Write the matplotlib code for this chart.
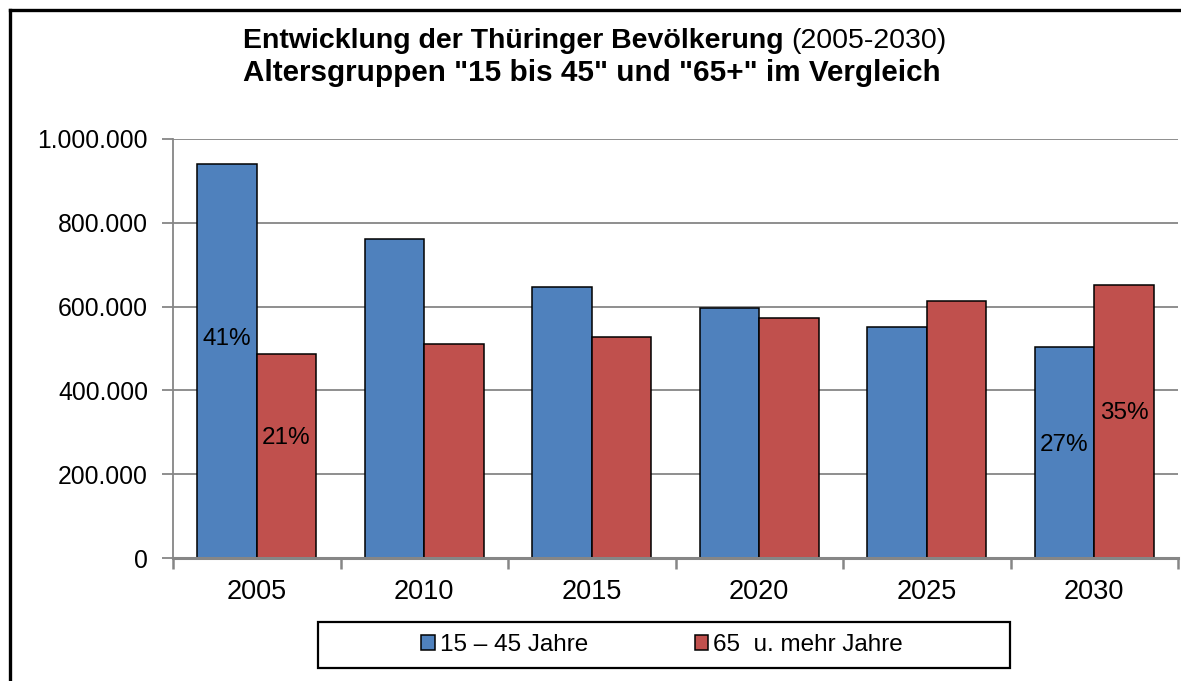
import matplotlib
matplotlib.use('Agg')
import matplotlib.pyplot as plt
import numpy as np
from matplotlib.patches import Rectangle
from matplotlib.lines import Line2D
from matplotlib.ticker import FuncFormatter

# ---- data ----
years = ['2005', '2010', '2015', '2020', '2025', '2030']
age_15_45 = [940000, 761000, 647000, 597000, 551000, 504000]
age_65_plus = [487000, 511000, 527000, 573000, 613000, 652000]
series_names = ['15 – 45 Jahre', '65  u. mehr Jahre']
# (year index, series index, text)
pct_labels = [(0, 0, '41%'), (0, 1, '21%'), (5, 0, '27%'), (5, 1, '35%')]
pct_height_frac = [0.555, 0.59, 0.535, 0.53]
title_bold = 'Entwicklung der Thüringer Bevölkerung '
title_regular = '(2005-2030)'
title_line2 = 'Altersgruppen "15 bis 45" und "65+" im Vergleich'

plt.rcParams['font.family'] = ['Liberation Sans', 'DejaVu Sans']

W, H = 1181, 681
fig = plt.figure(figsize=(W / 100, H / 100), dpi=100)
fig.patch.set_facecolor('white')

ax = fig.add_axes([173 / W, 1 - 558 / H, 1005 / W, 419 / H])

x = np.arange(len(years))
w = 0.355
colors = ['#4F81BD', '#C0504D']
b1 = ax.bar(x - w / 2, age_15_45, w, color=colors[0], edgecolor='black', linewidth=1.1, zorder=3)
b2 = ax.bar(x + w / 2, age_65_plus, w, color=colors[1], edgecolor='black', linewidth=1.1, zorder=3)

ax.set_xlim(-0.5, len(years) - 0.5)
ax.set_ylim(0, 1000000)
ax.set_yticks(np.arange(0, 1000001, 200000))
ax.yaxis.set_major_formatter(FuncFormatter(lambda v, p: f'{int(v):,}'.replace(',', '.')))
ax.grid(axis='y', color='#868686', linewidth=1.3, zorder=0)
ax.set_axisbelow(True)

for s in ['top', 'right']:
    ax.spines[s].set_visible(False)
ax.spines['left'].set_color('#868686')
ax.spines['left'].set_linewidth(1.3)
ax.spines['bottom'].set_color('#868686')
ax.spines['bottom'].set_linewidth(2.2)
ax.spines['bottom'].set_zorder(4)

ax.set_xticks(x)
ax.set_xticklabels(years)
ax.tick_params(axis='x', which='major', length=0, pad=15, labelsize=19.5)
ax.set_xticks(np.arange(-0.5, len(years), 1), minor=True)
ax.tick_params(axis='x', which='minor', length=8, width=1.8, color='#868686', direction='out')
ax.tick_params(axis='y', length=8, width=1.3, color='#868686', direction='out', pad=10, labelsize=17.8)

series = [age_15_45, age_65_plus]
for (i, s, t), f in zip(pct_labels, pct_height_frac):
    xpos = i - w / 2 if s == 0 else i + w / 2
    ax.text(xpos, series[s][i] * f, t, ha='center', va='center', fontsize=17.5, color='black', zorder=5)

# ---- title ----
fig.canvas.draw()
r = fig.canvas.get_renderer()
tb = fig.text(0, 1 - 41 / H, title_bold, fontsize=20.5, fontweight='bold', ha='left', va='center')
tr = fig.text(0, 1 - 41 / H, title_regular, fontsize=20.5, ha='left', va='center')
wb = tb.get_window_extent(r).width
wr = tr.get_window_extent(r).width
cx = 595
x0 = cx - (wb + wr) / 2
tb.set_x(x0 / W)
tr.set_x((x0 + wb) / W)
fig.text(592 / W, 1 - 73 / H, title_line2, fontsize=21.3, fontweight='bold', ha='center', va='center')

# ---- legend ----
fig.legend([b1, b2], series_names, loc='center', bbox_to_anchor=(662 / W, 1 - 645 / H), ncol=2,
           frameon=False, fontsize=17.5, handlelength=0.55, handleheight=0.55, handletextpad=0.2,
           columnspacing=4.4)
fig.add_artist(Rectangle((318 / W, 1 - 668 / H), 692 / W, 46 / H, transform=fig.transFigure,
                         fill=False, edgecolor='black', linewidth=1.6))

# ---- outer frame (left and top) ----
fig.add_artist(Line2D([10 / W, 10 / W], [0, 1 - 10 / H], transform=fig.transFigure, color='black', lw=2.4))
fig.add_artist(Line2D([10 / W, 1], [1 - 10 / H, 1 - 10 / H], transform=fig.transFigure, color='black', lw=2.4))

fig.savefig('out.png', dpi=100, facecolor='white')
